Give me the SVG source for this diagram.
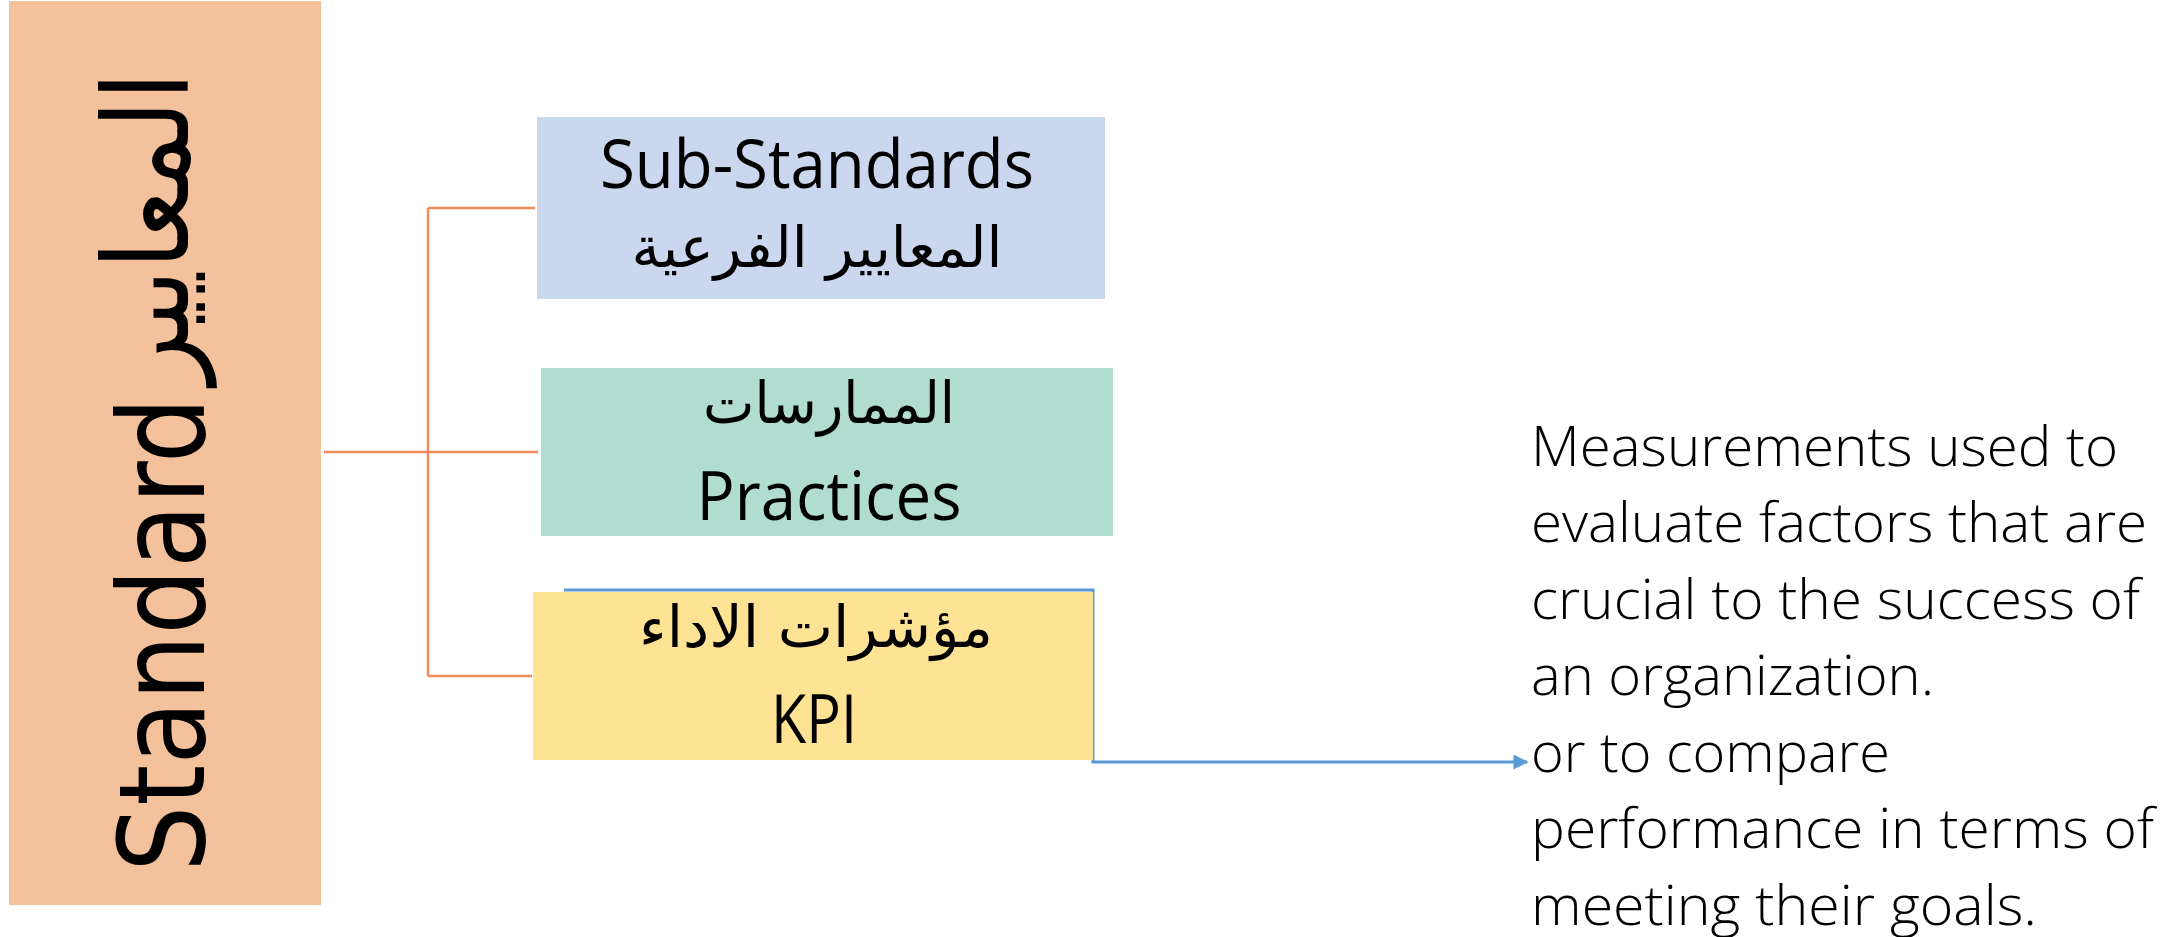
<svg xmlns="http://www.w3.org/2000/svg" width="2177" height="937" viewBox="0 0 2177 937">
<style>
.en{font-family:"Open Sans","Noto Sans","DejaVu Sans",sans-serif;fill:#000}
.ar{font-family:"DejaVu Sans","Noto Sans",sans-serif;fill:#000}
.desc{font-family:"Open Sans","Noto Sans",sans-serif;font-weight:300;font-size:55px;fill:#000}
.org{fill:none;stroke:#F08C5C;stroke-width:2.5}
.blu{fill:none;stroke:#5B9BD5;stroke-width:3}
</style>
<defs>
<marker id="arr" viewBox="0 0 10 10" refX="9" refY="5" markerWidth="5.5" markerHeight="5" markerUnits="strokeWidth" orient="auto">
<path d="M0,0 L10,5 L0,10 z" fill="#5B9BD5"/>
</marker>
</defs>
<rect width="2177" height="937" fill="#fff"/>
<g id="standard">
<rect x="9" y="1" width="312" height="904" fill="#F4C19D"/>
<text class="en" font-size="120" transform="translate(204,872) rotate(-90)" textLength="475" lengthAdjust="spacingAndGlyphs" style="font-family:'DejaVu Sans',sans-serif">Standard</text>
<text class="ar" font-size="118" text-anchor="middle" transform="translate(188,228) rotate(-90)" textLength="312" lengthAdjust="spacingAndGlyphs">المعايير</text>
</g>
<g id="connectors">
<path class="org" d="M324,452 H428 M428,208 V676 M428,208 H535 M428,452 H538 M428,676 H532"/>
<path class="blu" d="M564,590 H1093 V762 H1527" marker-end="url(#arr)"/>
</g>
<g id="sub-standards">
<rect x="537" y="117" width="568" height="182" fill="#CAD7EE"/>
<text class="en" font-size="67" x="817" y="188" text-anchor="middle" textLength="434" lengthAdjust="spacingAndGlyphs">Sub-Standards</text>
<text class="ar" font-size="57" x="817" y="267" text-anchor="middle" textLength="371" lengthAdjust="spacingAndGlyphs">المعايير الفرعية</text>
</g>
<g id="practices">
<rect x="541" y="368" width="572" height="168" fill="#B1DCD0"/>
<text class="ar" font-size="58" x="829" y="423" text-anchor="middle" textLength="252" lengthAdjust="spacingAndGlyphs">الممارسات</text>
<text class="en" font-size="67" x="829" y="520" text-anchor="middle" textLength="265" lengthAdjust="spacingAndGlyphs">Practices</text>
</g>
<g id="kpi">
<rect x="533" y="592" width="560" height="168" fill="#FFE394"/>
<text class="ar" font-size="58" x="816" y="647" text-anchor="middle" textLength="354" lengthAdjust="spacingAndGlyphs">مؤشرات الاداء</text>
<text class="en" font-size="67" x="814" y="743" text-anchor="middle" textLength="86" lengthAdjust="spacingAndGlyphs">KPI</text>
</g>
<g id="description">
<text class="desc" x="1531" y="466" textLength="587" lengthAdjust="spacingAndGlyphs">Measurements used to</text>
<text class="desc" x="1531" y="542" textLength="616" lengthAdjust="spacingAndGlyphs">evaluate factors that are</text>
<text class="desc" x="1531" y="619" textLength="609" lengthAdjust="spacingAndGlyphs">crucial to the success of</text>
<text class="desc" x="1531" y="695" textLength="403" lengthAdjust="spacingAndGlyphs">an organization.</text>
<text class="desc" x="1531" y="772" textLength="359" lengthAdjust="spacingAndGlyphs">or to compare</text>
<text class="desc" x="1531" y="848" textLength="623" lengthAdjust="spacingAndGlyphs">performance in terms of</text>
<text class="desc" x="1531" y="925" textLength="506" lengthAdjust="spacingAndGlyphs">meeting their goals.</text>
</g>
</svg>
